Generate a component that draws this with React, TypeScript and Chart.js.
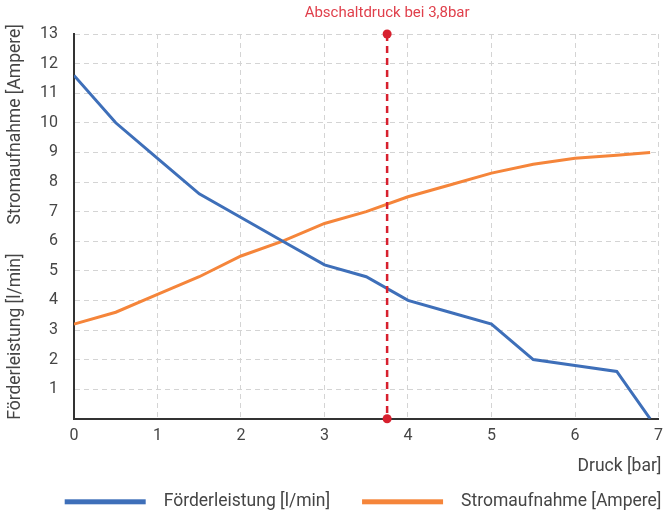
import React, { useEffect, useRef } from "react";
import { Chart, registerables } from "chart.js";

Chart.register(...registerables);

const pressure = [0, 0.5, 1, 1.5, 2, 2.5, 3, 3.5, 4, 4.5, 5, 5.5, 6, 6.5, 6.9];
const flow = [11.6, 10.0, 8.8, 7.6, 6.8, 6.0, 5.2, 4.8, 4.0, 3.6, 3.2, 2.0, 1.8, 1.6, 0];
const current = [3.2, 3.6, 4.2, 4.8, 5.5, 6.0, 6.6, 7.0, 7.5, 7.9, 8.3, 8.6, 8.8, 8.9, 9.0];
const cutoffPressure = 3.75;
const cutoffLabel = "Abschaltdruck bei 3,8bar";
const seriesNames = ["Förderleistung [l/min]", "Stromaufnahme [Ampere]"];
const yTitleParts = ["Förderleistung [l/min]", "Stromaufnahme [Ampere]"];
const xTitle = "Druck [bar]";

const FONT = "Roboto, 'DejaVu Sans', sans-serif";
const TEXT = "#454545";
const LABEL_SIZE = 17.5;

const decorPlugin = {
  id: "decor",
  afterDatasetsDraw(chart: any) {
    const { ctx, scales, chartArea } = chart;
    const x = scales.x.getPixelForValue(cutoffPressure);
    const top = chartArea.top;
    const bottom = chartArea.bottom;
    ctx.save();
    ctx.strokeStyle = "#d7202e";
    ctx.lineWidth = 2.5;
    ctx.setLineDash([7, 5]);
    ctx.beginPath();
    ctx.moveTo(x, top);
    ctx.lineTo(x, bottom);
    ctx.stroke();
    ctx.setLineDash([]);
    ctx.fillStyle = "#d7202e";
    for (const y of [top, bottom]) {
      ctx.beginPath();
      ctx.arc(x, y, 4.5, 0, Math.PI * 2);
      ctx.fill();
    }
    ctx.fillStyle = "#e0404c";
    ctx.font = `15px ${FONT}`;
    ctx.textAlign = "center";
    ctx.textBaseline = "middle";
    ctx.fillText(cutoffLabel, x, top - 21);
    ctx.restore();
  },
  afterDraw(chart: any) {
    const { ctx, chartArea, data } = chart;
    ctx.save();
    ctx.font = `${LABEL_SIZE}px ${FONT}`;
    ctx.fillStyle = TEXT;
    ctx.textBaseline = "middle";

    // y title (rotated)
    ctx.save();
    ctx.translate(16, 0);
    ctx.rotate(-Math.PI / 2);
    ctx.textAlign = "left";
    ctx.fillText(yTitleParts[0], -chartArea.bottom - 1, 0);
    ctx.textAlign = "right";
    ctx.fillText(yTitleParts[1], -(chartArea.top - 10), 0);
    ctx.restore();

    // x title
    ctx.textAlign = "right";
    ctx.fillText(xTitle, chartArea.right + 3, chartArea.bottom + 48);

    // legend
    const lineW = 81;
    const gapText = 18;
    const gapItem = 32;
    const widths = data.datasets.map((d: any) => lineW + gapText + ctx.measureText(d.label).width);
    const total = widths.reduce((a: number, b: number) => a + b, 0) + gapItem * (widths.length - 1);
    let lx = chartArea.right + 3 - total;
    const ly = chartArea.bottom + 83;
    data.datasets.forEach((d: any, i: number) => {
      ctx.fillStyle = d.borderColor;
      ctx.fillRect(lx, ly - 2.5, lineW, 5);
      ctx.fillStyle = TEXT;
      ctx.textAlign = "left";
      ctx.fillText(d.label, lx + lineW + gapText, ly);
      lx += widths[i] + gapItem;
    });
    ctx.restore();
  },
};

export default function App() {
  const ref = useRef<HTMLCanvasElement | null>(null);
  useEffect(() => {
    if (!ref.current) return;
    const chart = new Chart(ref.current, {
      type: "line",
      data: {
        datasets: [
          {
            label: seriesNames[0],
            data: pressure.map((p, i) => ({ x: p, y: flow[i] })),
            borderColor: "#3e6fb9",
            backgroundColor: "#3e6fb9",
            borderWidth: 3,
            pointRadius: 0,
            tension: 0,
          },
          {
            label: seriesNames[1],
            data: pressure.map((p, i) => ({ x: p, y: current[i] })),
            borderColor: "#f5853a",
            backgroundColor: "#f5853a",
            borderWidth: 3,
            pointRadius: 0,
            tension: 0,
          },
        ],
      },
      options: {
        animation: false,
        responsive: false,
        layout: { autoPadding: false, padding: { top: 34, right: 0, left: 24, bottom: 59 } },
        scales: {
          x: {
            type: "linear",
            min: 0,
            max: 7,
            ticks: { stepSize: 1, color: TEXT, font: { family: FONT, size: 16 }, padding: 8 },
            grid: { color: "#d4d4d4", lineWidth: 1, drawTicks: false },
            border: { display: true, color: "#333333", width: 2, dash: [5, 4] },
          },
          y: {
            min: 0,
            max: 13,
            ticks: {
              stepSize: 1,
              color: TEXT,
              font: { family: FONT, size: 16 },
              padding: 16,
              callback: (v: any) => (v === 0 ? "" : String(v)),
            },
            grid: { color: "#d4d4d4", lineWidth: 1, drawTicks: false },
            border: { display: true, color: "#333333", width: 2, dash: [5, 4] },
          },
        },
        plugins: {
          legend: { display: false },
          tooltip: { enabled: false },
        },
      },
      plugins: [decorPlugin],
    } as any);
    return () => chart.destroy();
  }, []);
  return (
    <div style={{ position: "absolute", left: 0, top: 0, width: 663, height: 513, overflow: "hidden", background: "#fff" }}>
      <canvas ref={ref} width={671} height={513} />
    </div>
  );
}
